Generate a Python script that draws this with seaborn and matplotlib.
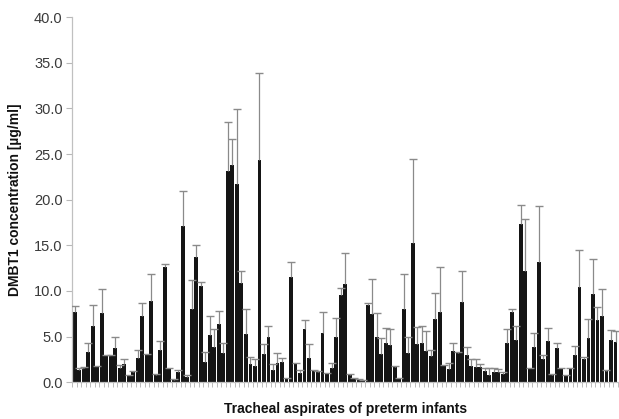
import numpy as np
import pandas as pd
import matplotlib
matplotlib.use("Agg")
import matplotlib.pyplot as plt
import seaborn as sns

# mean DMBT1 concentration per tracheal aspirate sample (ug/ml)
means = [
    7.7, 1.3, 1.6, 3.3, 6.1, 1.8, 7.6, 3.0, 3.0, 3.7, 1.6, 2.0, 0.8, 1.1, 2.6, 7.3, 3.1, 8.9, 0.8, 3.5, 12.6,
    1.6, 0.2, 1.1, 17.1, 0.6, 8.0, 13.7, 10.5, 2.2, 5.2, 3.8, 6.4, 3.2, 23.1, 23.8, 21.7, 10.9, 5.3, 2.0, 1.8,
    24.3, 3.1, 5.0, 1.3, 2.1, 2.2, 0.4, 11.5, 2.1, 0.95, 5.8, 2.6, 1.2, 1.1, 5.4, 0.95, 1.5, 5.0, 9.6,
    10.8, 0.8, 0.5, 0.3, 0.2, 8.4, 7.5, 4.9, 3.1, 4.3, 4.1, 1.7, 0.5, 8.0, 3.2, 15.3, 4.2, 4.3, 3.4, 2.9, 6.9,
    7.7, 1.9, 1.4, 3.4, 3.2, 8.8, 3.0, 1.8, 1.7, 1.7, 1.2, 0.8, 1.1, 1.1, 0.9, 4.3, 7.7, 4.6, 17.3,
    12.2, 1.6, 3.9, 13.2, 2.5, 4.5, 0.8, 3.7, 1.5, 0.8, 1.5, 3.0, 10.4, 2.5, 4.8, 9.7, 6.8, 7.2, 1.2, 4.6, 4.4,
]

# top of the error bar (mean + SD) for each sample
upper = [
    8.3, 1.5, 1.7, 4.3, 8.5, 1.8, 10.2, 3.0, 3.0, 4.9, 1.9, 2.5, 0.8, 1.2, 3.5, 8.7, 3.1, 11.9, 0.9, 4.5, 13.0,
    1.6, 0.3, 1.3, 20.9, 0.8, 11.2, 15.0, 11.0, 3.3, 7.2, 5.8, 7.8, 4.3, 28.5, 26.6, 29.9, 12.2, 8.0, 2.8, 2.5,
    33.9, 4.2, 6.1, 2.0, 3.2, 2.6, 0.5, 13.2, 2.1, 1.3, 6.8, 4.2, 1.3, 1.2, 7.7, 1.0, 2.1, 7.0, 10.3,
    14.2, 0.9, 0.5, 0.3, 0.2, 8.7, 11.3, 7.6, 4.8, 5.9, 5.8, 1.8, 0.5, 11.9, 5.0, 24.5, 6.0, 6.1, 5.6, 3.5, 9.8,
    12.6, 1.9, 2.1, 4.3, 3.3, 12.2, 3.9, 2.5, 2.5, 2.0, 1.6, 1.5, 1.5, 1.4, 1.1, 5.8, 8.0, 6.1, 19.4,
    17.9, 1.6, 5.4, 19.3, 3.0, 5.9, 0.9, 4.3, 1.6, 0.8, 1.6, 4.0, 14.5, 2.8, 6.9, 13.5, 8.2, 10.2, 1.3, 5.7, 5.6,
]

y_ticks = [0, 5, 10, 15, 20, 25, 30, 35, 40]
y_label = "DMBT1 concentration [µg/ml]"
x_label = "Tracheal aspirates of preterm infants"

df = pd.DataFrame({"sample": np.arange(len(means)), "mean": means, "upper": upper})

sns.set_style("white")
plt.rcParams["font.family"] = ["Liberation Sans", "DejaVu Sans"]

fig = plt.figure(figsize=(6.19, 4.19), dpi=100)
ax = fig.add_axes([0.117, 0.088, 0.881, 0.871])

sns.barplot(data=df, x="sample", y="mean", color="#151515", saturation=1,
            width=0.86, edgecolor="none", errorbar=None, ax=ax, zorder=2)

err = ax.errorbar(df["sample"], df["mean"],
                  yerr=[np.zeros(len(df)), df["upper"] - df["mean"]],
                  fmt="none", ecolor="#8a8a8a", elinewidth=0.9,
                  capsize=2.8, capthick=1.0, zorder=3)
caps = err[1]
if len(caps) == 2:
    caps[0].set_visible(False)
    caps[1].set_color("#333333")

ax.set_xlim(-0.5, len(means) - 0.5)
ax.set_ylim(0, 40)
ax.set_yticks(y_ticks)
ax.set_yticklabels([f"{t:.1f}" for t in y_ticks], fontsize=10.5, color="#3a3a3a")

# small tick marks between samples, no labels
ax.set_xticks(np.arange(len(means) + 1) - 0.5)
ax.set_xticklabels([])
ax.tick_params(axis="x", length=3.5, width=0.6, color="#b0b0b0", direction="out", bottom=True)
ax.tick_params(axis="y", length=4, width=0.8, color="#b8b8b8", direction="out", left=True, pad=3)

for side in ["top", "right"]:
    ax.spines[side].set_visible(False)
ax.spines["left"].set_color("#c0c0c0")
ax.spines["bottom"].set_color("#c0c0c0")
ax.spines["left"].set_linewidth(0.9)
ax.spines["bottom"].set_linewidth(0.9)

ax.set_xlabel("")
ax.set_ylabel(y_label, fontsize=10, fontweight="bold", color="#111111", labelpad=9)
fig.text(0.558, 0.025, x_label, ha="center", va="center", fontsize=10,
         fontweight="bold", color="#111111")

fig.savefig("out.png", dpi=100, facecolor="white")
